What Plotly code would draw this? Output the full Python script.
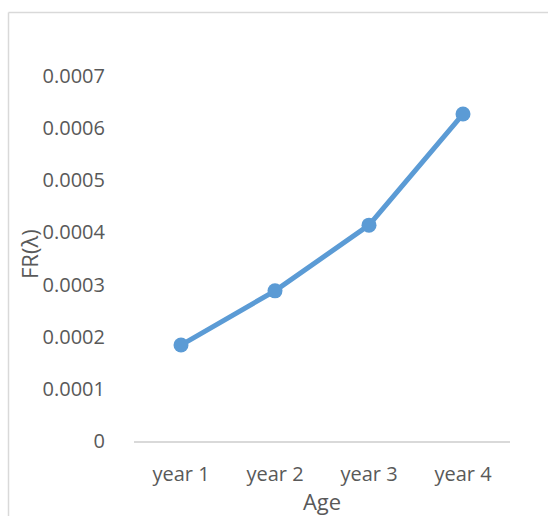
import plotly.graph_objects as go

categories = ["year 1", "year 2", "year 3", "year 4"]
fr_values = [0.000184, 0.000288, 0.000414, 0.000627]
y_ticks = [0, 0.0001, 0.0002, 0.0003, 0.0004, 0.0005, 0.0006, 0.0007]
y_tick_labels = ["0", "0.0001", "0.0002", "0.0003", "0.0004", "0.0005", "0.0006", "0.0007"]

L, R, T, B = 134, 38, 76, 75
W, H = 548, 516
pw, ph = W - L - R, H - T - B

def px(x):
    return (x - L) / pw

def py(y):
    return (H - B - y) / ph

fig = go.Figure()
fig.add_trace(go.Scatter(
    x=categories, y=fr_values, mode="lines+markers",
    line=dict(color="#5B9BD5", width=5),
    marker=dict(color="#5B9BD5", size=15),
    showlegend=False,
))

font_main = "Open Sans, Liberation Sans, sans-serif"
fig.update_layout(
    width=W, height=H,
    margin=dict(l=L, r=R, t=T, b=B),
    paper_bgcolor="white", plot_bgcolor="white",
    font=dict(family=font_main, color="#595959", size=20),
    xaxis=dict(
        range=[-0.5, 3.5], showgrid=False, zeroline=False,
        showline=True, linecolor="#d9d9d9", linewidth=1.5,
        ticks="outside", ticklen=14, tickcolor="rgba(0,0,0,0)",
        tickfont=dict(size=20, color="#595959"),
        title=dict(text="Age", font=dict(size=22, color="#595959"), standoff=2),
    ),
    yaxis=dict(
        range=[0, 0.0007], showgrid=False, zeroline=False, showline=False,
        tickvals=y_ticks, ticktext=y_tick_labels,
        ticks="outside", ticklen=24, tickcolor="rgba(0,0,0,0)",
        tickfont=dict(size=20, color="#595959"),
    ),
    shapes=[
        dict(type="line", xref="paper", yref="paper",
             x0=px(8.5), x1=px(W + 5), y0=py(12.5), y1=py(12.5),
             line=dict(color="#d9d9d9", width=1.5)),
        dict(type="line", xref="paper", yref="paper",
             x0=px(8.5), x1=px(8.5), y0=py(12.5), y1=py(H + 5),
             line=dict(color="#d9d9d9", width=1.5)),
    ],
    annotations=[
        dict(text="FR(λ)", textangle=-90, xref="paper", yref="paper",
             x=px(29), y=py(254), xanchor="center", yanchor="middle",
             showarrow=False, font=dict(size=22, color="#595959")),
    ],
)

fig.write_html("out.html")
